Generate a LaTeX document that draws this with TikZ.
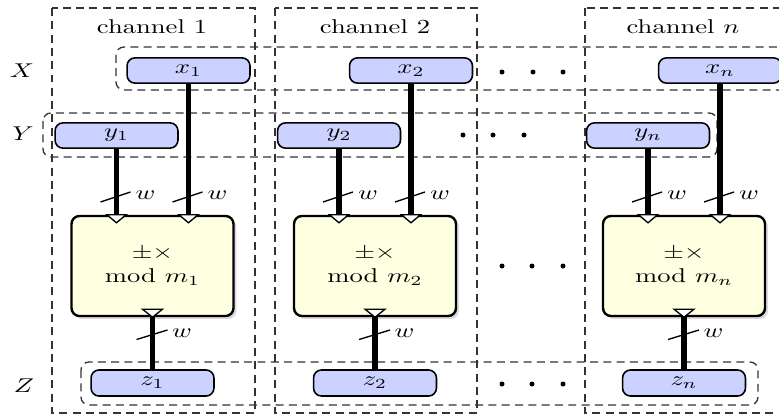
\documentclass[tikz,border=0pt]{standalone}
\usepackage{graphicx}
\usetikzlibrary{shadows,calc}
% text is set slightly flattened to suit the wide layout
\newcommand{\vs}[1]{\scalebox{1}[0.75]{#1}}
\definecolor{portblue}{RGB}{204,210,255}
\definecolor{alupale}{RGB}{255,255,226}
\tikzset{
  chframe/.style={dash pattern=on 3pt off 2pt, line width=0.5pt, draw=black!80},
  band/.style={chframe, rounded corners=3pt},
  iobox/.style={draw, line width=0.6pt, rounded corners=3pt, fill=portblue,
    minimum width=46.2pt, minimum height=9.5pt, inner sep=0pt},
  alu/.style={draw, line width=0.9pt, rounded corners=3pt, fill=alupale,
    minimum width=60.9pt, minimum height=37.6pt, inner sep=0pt, align=center,
    drop shadow={shadow xshift=1.1pt, shadow yshift=-1.1pt, opacity=0.25, fill=blue!20!black!60}},
  bus/.style={line width=2pt},
  wtick/.style={line width=0.5pt},
  tri/.style={draw, fill=white, line width=0.5pt, line join=miter},
  dotmark/.style={fill=black},
}
\begin{document}
\begin{tikzpicture}[x=0.3759pt, y=-0.3759pt]
\useasboundingbox (0,0) rectangle (779,416);

% channel frames
\draw[chframe] (52,8) rectangle (255,413);
\draw[chframe] (275,8) rectangle (477,413);
\draw[chframe] (585,8) rectangle (830,413);

% operand / result bands
\draw[band] (830,47) -- (116,47) -- (116,90) -- (830,90);
\draw[band] (43,113) rectangle (717,157);
\draw[band] (81,362) rectangle (758,405);

% titles and row labels
\node (t1) at (152,27) {\vs{channel 1}};
\node (t2) at (375,27) {\vs{channel 2}};
\node (tn) at (683,27) {\vs{channel $n$}};
\node (lx) at (22,71) {\vs{$X$}};
\node (ly) at (23,134) {\vs{$Y$}};
\node (lz) at (24,386) {\vs{$Z$}};

% ellipses between channel 2 and channel n
\foreach \px in {502,533,563} \fill[dotmark] (\px,72) circle (2.5);
\foreach \px in {463,493,524} \fill[dotmark] (\px,135) circle (2.5);
\foreach \px in {502,532,563} \fill[dotmark] (\px,266) circle (2.5);
\foreach \px in {502,532,563} \fill[dotmark] (\px,384) circle (2.5);

% one modular unit per channel
\foreach \i/\c in {1/152.5, 2/375, n/684} {
  \node[alu] (m\i) at (\c,266)
    {\vs{\begin{tabular}{@{}c@{}}$\pm\times$\\ mod $m_{\i}$\end{tabular}}};
  \node[iobox] (x\i) at (\c+36,70.5) {\vs{$x_{\i}$}};
  \node[iobox] (y\i) at (\c-36,135.5) {\vs{$y_{\i}$}};
  \node[iobox, minimum height=9.8pt] (z\i) at (\c,383) {\vs{$z_{\i}$}};

  % buses
  \draw[bus] (y\i.south) -- (y\i.south |- m\i.north);
  \draw[bus] (x\i.south) -- (x\i.south |- m\i.north);
  \draw[bus] (m\i.south) -- (z\i.north);

  % input and output ports
  \draw[tri] ($(y\i.south |- m\i.north)+(-9.5,0)$) -- ++(19,0) -- ++(-9.5,8) -- cycle;
  \draw[tri] ($(x\i.south |- m\i.north)+(-9.5,0)$) -- ++(19,0) -- ++(-9.5,8) -- cycle;
  \draw[tri] ($(m\i.south)+(-10,-8)$) -- ++(20,0) -- ++(-10,8) -- cycle;

  % bus widths
  \coordinate (ay\i) at (y\i.south |- 0,197);
  \coordinate (ax\i) at (x\i.south |- 0,197);
  \coordinate (az\i) at (m\i.south |- 0,334.5);
  \draw[wtick] ($(ay\i)+(-16,5)$) -- ($(ay\i)+(14,-5)$);
  \draw[wtick] ($(ax\i)+(-16,5)$) -- ($(ax\i)+(14,-5)$);
  \draw[wtick] ($(az\i)+(-16,5)$) -- ($(az\i)+(15,-4.5)$);
  \node (wy\i) at ($(ay\i)+(29,-2)$) {\vs{$w$}};
  \node (wx\i) at ($(ax\i)+(29,-2)$) {\vs{$w$}};
  \node (wz\i) at ($(az\i)+(29.5,-1.5)$) {\vs{$w$}};
}
\end{tikzpicture}
\end{document}
